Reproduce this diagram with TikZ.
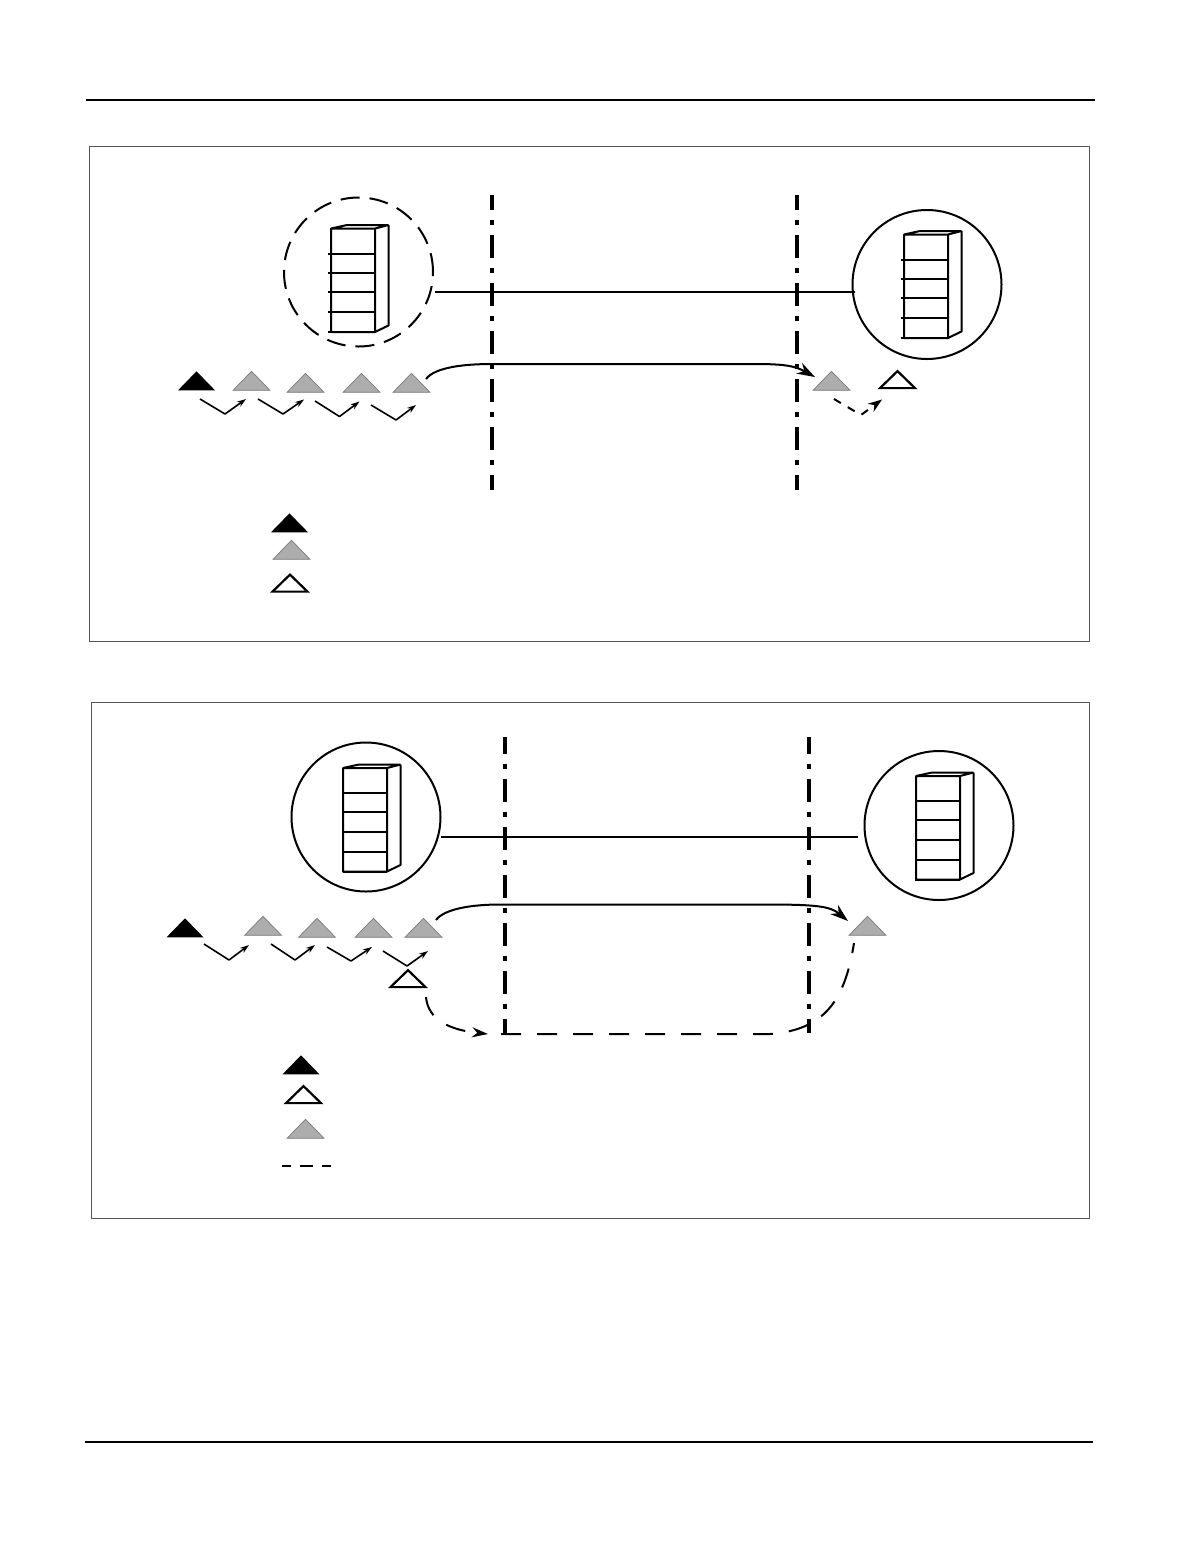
\documentclass[tikz,border=0pt]{standalone}
\usetikzlibrary{shapes.geometric,arrows.meta}
\definecolor{trigrey}{HTML}{ADADAD}
\definecolor{triedge}{HTML}{7A7A7A}
\definecolor{panelline}{HTML}{555555}
\tikzset{
  rulebar/.style={line width=1.2pt,black},
  panel/.style={draw=panelline,line width=0.55pt},
  tribase/.style={isosceles triangle,shape border rotate=90,isosceles triangle stretches,
    inner sep=0pt,outer sep=0pt,minimum width=18.5pt,minimum height=9.5pt,yshift=-0.75pt},
  triblack/.style={tribase,fill=black},
  trigray/.style={tribase,fill=trigrey,draw=triedge,line width=0.35pt},
  triwhite/.style={tribase,fill=white,draw=black,line width=1.1pt,minimum width=17.5pt,minimum height=8.5pt},
  boundary/.style={line width=1.75pt,dash pattern=on 11.5pt off 5pt on 2.5pt off 5pt},
  phaseA/.style={dash phase=4pt},
  phaseB/.style={dash phase=3pt},
  hostring/.style={circle,draw,inner sep=0pt,outer sep=0pt,minimum size=74.5pt,line width=1pt},
  hostdash/.style={hostring,dash pattern=on 9.5pt off 5pt},
  link/.style={line width=1pt},
  tipbig/.style={-{Stealth[length=9pt,width=6pt]}},
  hop/.style={line width=0.8pt,line join=round,-{Stealth[length=4.5pt,width=3pt]}},
  hopdash/.style={line width=1pt,dash pattern=on 4pt off 4pt,-{Stealth[length=7pt,width=5pt]}},
  flowdash/.style={line width=1pt,dash pattern=on 10pt off 8pt},
  cabinet/.pic={
    \draw[line width=1pt,line join=bevel]
      (0,0) rectangle (44,103.5)
      (0,0) -- (16,-3.5) -- (57.5,-3.5) -- (44,0)
      (57.5,-3.5) -- (57.5,97) -- (44,103.5);
    \draw[line width=1pt]
      (-#1,25) -- (44,25) (-#1,44) -- (44,44) (-#1,63.5) -- (44,63.5) (-#1,83.5) -- (44,83.5)
      (-#1,103.5) -- (44,103.5);
  }
}
\begin{document}
\begin{tikzpicture}[x=0.5pt,y=-0.5pt]
\useasboundingbox (0,0) rectangle (1202,1560);
\fill[white] (0,0) rectangle (1202,1560);
% page rules
\coordinate (ruleTL) at (86,100); \coordinate (ruleTR) at (1095,100);
\coordinate (ruleBL) at (85,1442); \coordinate (ruleBR) at (1093,1442);
\draw[rulebar] (ruleTL) -- (ruleTR);
\draw[rulebar] (ruleBL) -- (ruleBR);
% panels
\draw[panel] (89.5,146.5) rectangle (1089.5,641.5);
\draw[panel] (91.5,702.5) rectangle (1089.5,1218.5);

% ---------- upper panel
\coordinate (bA1) at (492,195); \coordinate (bA2) at (492,490);
\coordinate (bB1) at (797,195); \coordinate (bB2) at (797,490);
\draw[boundary,phaseA] (bA1) -- (bA2);
\draw[boundary,phaseA] (bB1) -- (bB2);

\node[hostdash] (hostA) at (358.5,272) {};
\node[hostring] (hostB) at (927,284.5) {};
\pic at (331,228.5) {cabinet=3};
\pic at (904,234.5) {cabinet=3.5};
\coordinate (lkA) at (435,292); \coordinate (lkB) at (855,292);
\draw[link] (lkA) -- (lkB);

\node[triblack] (a0) at (196.5,381) {};
\node[trigray] (a1) at (251.5,381) {};
\node[trigray] (a2) at (305.5,383) {};
\node[trigray] (a3) at (361.5,383) {};
\node[trigray] (a4) at (411.5,383) {};
\node[trigray] (a5) at (831.5,381) {};
\node[triwhite] (a6) at (897.5,379.5) {};

\coordinate (fa1) at (426,379); \coordinate (fa2) at (492,364);
\coordinate (fa3) at (755,364); \coordinate (fa4) at (815,377);
\draw[link,tipbig] (fa1) .. controls (435,367) and (465,364) .. (fa2) -- (fa3)
   .. controls (785,364) and (795,366) .. (fa4);

\coordinate (ha1) at (200,399); \coordinate (ma1) at (225,414); \coordinate (ta1) at (246,399);
\coordinate (ha2) at (258,399); \coordinate (ma2) at (283,414); \coordinate (ta2) at (304,399.5);
\coordinate (ha3) at (315,401); \coordinate (ma3) at (339.5,416.5); \coordinate (ta3) at (359.5,401.5);
\coordinate (ha4) at (371,405); \coordinate (ma4) at (396,420); \coordinate (ta4) at (416,405);
\draw[hop] (ha1) -- (ma1) -- (ta1);
\draw[hop] (ha2) -- (ma2) -- (ta2);
\draw[hop] (ha3) -- (ma3) -- (ta3);
\draw[hop] (ha4) -- (ma4) -- (ta4);
\coordinate (ha5) at (834,399); \coordinate (ma5) at (861,415); \coordinate (ta5) at (882,399.5);
\draw[hopdash] (ha5) -- (ma5) -- (ta5);

\node[triblack] (la0) at (289.5,523) {};
\node[trigray] (la1) at (291.5,550) {};
\node[triwhite] (la2) at (290,583) {};

% ---------- lower panel
\coordinate (bC1) at (505,737); \coordinate (bC2) at (505,1033);
\coordinate (bD1) at (809,737); \coordinate (bD2) at (809,1033);
\draw[boundary,phaseB] (bC1) -- (bC2);
\draw[boundary,phaseB] (bD1) -- (bD2);

\node[hostring] (hostC) at (366,817) {};
\node[hostring] (hostD) at (939,825.5) {};
\pic at (343,768) {cabinet=0};
\pic at (916,776) {cabinet=1};
\coordinate (lkC) at (441,836.5); \coordinate (lkD) at (858,836.5);
\draw[link] (lkC) -- (lkD);

\node[triblack] (b0) at (185,928) {};
\node[trigray] (b1) at (263,926) {};
\node[trigray] (b2) at (317,928) {};
\node[trigray] (b3) at (373.5,928) {};
\node[trigray] (b4) at (423.5,928) {};
\node[trigray] (b5) at (867.5,926) {};
\node[triwhite] (b6) at (408,978.5) {};

\coordinate (fb1) at (436,920); \coordinate (fb2) at (500,904.5);
\coordinate (fb3) at (765,904.5); \coordinate (fb4) at (848,921);
\draw[link,tipbig] (fb1) .. controls (445,908) and (475,904.5) .. (fb2) -- (fb3)
   .. controls (815,904.5) and (830,906) .. (fb4);

\coordinate (hb1) at (204,944); \coordinate (mb1) at (229,960); \coordinate (tb1) at (249,945);
\coordinate (hb2) at (271,944); \coordinate (mb2) at (295,960); \coordinate (tb2) at (315,945);
\coordinate (hb3) at (327,947); \coordinate (mb3) at (351,961); \coordinate (tb3) at (372,947);
\coordinate (hb4) at (383,951); \coordinate (mb4) at (407,966); \coordinate (tb4) at (428,951);
\draw[hop] (hb1) -- (mb1) -- (tb1);
\draw[hop] (hb2) -- (mb2) -- (tb2);
\draw[hop] (hb3) -- (mb3) -- (tb3);
\draw[hop] (hb4) -- (mb4) -- (tb4);

\coordinate (db1) at (426,997); \coordinate (db2) at (488,1034);
\draw[flowdash,-{Stealth[length=8pt,width=5pt]}] (db1) .. controls (428,1020) and (450,1030) .. (db2);
\coordinate (db3) at (501,1034); \coordinate (db4) at (770,1034); \coordinate (db5) at (854,943);
\draw[flowdash] (db3) -- (db4) .. controls (825,1030) and (845,1000) .. (db5);

\node[triblack] (lb0) at (301,1065) {};
\node[triwhite] (lb1) at (303.5,1094.5) {};
\node[trigray] (lb2) at (305.5,1129) {};
\coordinate (ld1) at (282,1166); \coordinate (ld2) at (331,1166);
\draw[line width=1pt,dash pattern=on 4.5pt off 4.5pt on 6.5pt off 4.5pt on 4.5pt off 4.5pt] (ld1) -- (ld2);
\end{tikzpicture}
\end{document}
